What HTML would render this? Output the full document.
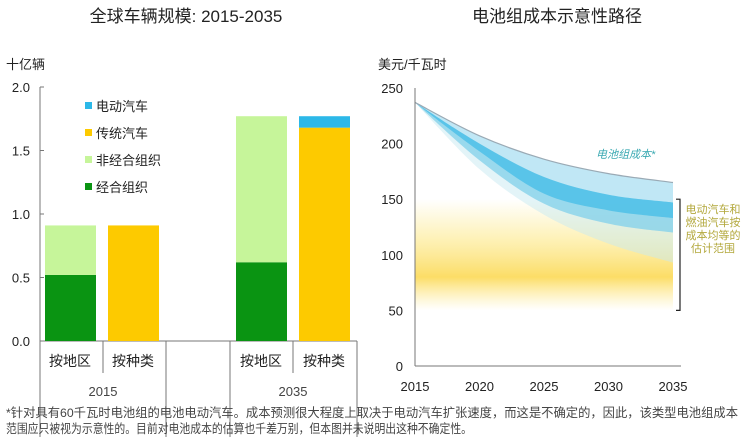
<!DOCTYPE html>
<html><head><meta charset="utf-8">
<style>
html,body{margin:0;padding:0;background:#fff;}
body{width:746px;height:437px;overflow:hidden;font-family:"Liberation Sans","Noto Sans CJK SC",sans-serif;}
svg text{font-family:"Liberation Sans","Noto Sans CJK SC",sans-serif;}
</style></head><body>
<svg id="c" width="746" height="437" viewBox="0 0 746 437">
<defs>
<linearGradient id="yel" x1="0" y1="0" x2="0" y2="1">
<stop offset="0" stop-color="#fde98a" stop-opacity="0"/>
<stop offset="0.35" stop-color="#fde98a" stop-opacity="0.6"/>
<stop offset="0.7" stop-color="#fbd955" stop-opacity="0.9"/>
<stop offset="1" stop-color="#fde98a" stop-opacity="0"/>
</linearGradient>
</defs>
<text x="186" y="22" font-size="17" text-anchor="middle" fill="#222">全球车辆规模: 2015-2035</text>
<text x="557" y="22" font-size="17" text-anchor="middle" fill="#222">电池组成本示意性路径</text>
<text x="6" y="69" font-size="13" fill="#222">十亿辆</text>
<text x="378" y="69" font-size="13" fill="#222">美元/千瓦时</text>
<g id="left"></g>
<g id="right"></g>
<text x="6" y="417" font-size="12.3" fill="#444" textLength="732" lengthAdjust="spacingAndGlyphs">*针对具有60千瓦时电池组的电池电动汽车。成本预测很大程度上取决于电动汽车扩张速度，而这是不确定的，因此，该类型电池组成本</text>
<text x="6" y="433" font-size="12.3" fill="#444" textLength="466" lengthAdjust="spacingAndGlyphs">范围应只被视为示意性的。目前对电池成本的估算也千差万别，但本图并未说明出这种不确定性。</text>
</svg>
<script>
const NS='http://www.w3.org/2000/svg';
function mk(p,t,a){const e=document.createElementNS(NS,t);for(const k in a)e.setAttribute(k,a[k]);p.appendChild(e);return e;}
// ---- left chart data
const barLabels=['按地区','按种类','按地区','按种类'];
const yearLabels=['2015','2035'];
const orgValues=[0.52,0,0.62,0];
const nonOrgValues=[0.39,0,1.15,0];
const iceValues=[0,0.91,0,1.68];
const evValues=[0,0,0,0.09];
const leftTicks=[0,0.5,1.0,1.5,2.0];
const L=document.getElementById('left');
const ly=v=>341-v*127;
const barX=[45,108,236,299];
leftTicks.forEach(t=>{
  const tx=mk(L,'text',{x:30,y:ly(t)+5,'font-size':13,'text-anchor':'end',fill:'#222'});tx.textContent=t.toFixed(1);
  
  
  const tk=mk(L,'line',{x1:40,x2:44,y1:ly(t),y2:ly(t),stroke:'#777'});
  
  
});
const axL=mk(L,'line',{x1:40,y1:87,x2:40,y2:437,stroke:'#777'});


const axB=mk(L,'line',{x1:40,y1:341,x2:357,y2:341,stroke:'#777'});


[[103,373],[166,437],[230,437],[293,373],[357,437]].forEach(d=>{
  const l=mk(L,'line',{x1:d[0],y1:341,x2:d[0],y2:d[1],stroke:'#777'});
  
  
});
const stacks=[['org',orgValues,'#0a9412'],['nonorg',nonOrgValues,'#c6f59a'],['ice',iceValues,'#fdca00'],['ev',evValues,'#2cb8e8']];
barLabels.forEach((lab,i)=>{
  let base=0;
  stacks.forEach(s=>{const v=s[1][i];if(v>0){
    const r=mk(L,'rect',{x:barX[i],y:ly(base+v),width:51,height:ly(base)-ly(base+v),fill:s[2]});
    
    
    base+=v;}});
  const t=mk(L,'text',{x:barX[i]+25,y:366,'font-size':14,'text-anchor':'middle',fill:'#222'});t.textContent=lab;
  
  
});
yearLabels.forEach((y,i)=>{
  const t=mk(L,'text',{x:[103,293][i],y:396,'font-size':13,'text-anchor':'middle',fill:'#444'});t.textContent=y;
  
  
});
const legendItems=[['电动汽车','#2cb8e8'],['传统汽车','#fdca00'],['非经合组织','#c6f59a'],['经合组织','#0a9412']];
legendItems.forEach((it,i)=>{
  const y=106+i*27;
  const r=mk(L,'rect',{x:85,y:y-4,width:7,height:7,fill:it[1]});
  
  
  const t=mk(L,'text',{x:96,y:y+5,'font-size':13,fill:'#222'});t.textContent=it[0];
  
  
});
// ---- right chart data
const years=[2015,2020,2025,2030,2035];
const upperCost=[237,207,186,173,165];
const midUpperCost=[237,200,170,154,147];
const coreCost=[237,193,155,140,133];
const midLowerCost=[237,185,146,128,120];
const lowerCost=[237,177,136,110,93];
const parityRange=[50,150];
const rightYTicks=[0,50,100,150,200,250];
const R=document.getElementById('right');
const rx=y=>415+(y-2015)*(258/20);
const ry=v=>366-v*1.112;
function pts(arr,ys){return arr.map((v,i)=>[rx(ys[i]),ry(v)]);}
function seg(p){let d='';
  for(let i=0;i<p.length-1;i++){const p0=p[Math.max(0,i-1)],p1=p[i],p2=p[i+1],p3=p[Math.min(p.length-1,i+2)];
    d+=' C'+(p1[0]+(p2[0]-p0[0])/6)+','+(p1[1]+(p2[1]-p0[1])/6)+' '+(p2[0]-(p3[0]-p1[0])/6)+','+(p2[1]-(p3[1]-p1[1])/6)+' '+p2;}
  return d;}
function curve(arr){const p=pts(arr,years);return 'M'+p[0]+seg(p);}
function rev(arr){const p=pts(arr.slice().reverse(),years.slice().reverse());return seg(p);}
function band(a,b,fill,op,name){const p=mk(R,'path',{d:curve(a)+' L'+rx(2035)+','+ry(b[b.length-1])+rev(b)+'Z',fill:fill,'fill-opacity':op});
  
  }
const yb=mk(R,'rect',{x:rx(2015),y:ry(parityRange[1]),width:rx(2035)-rx(2015),height:ry(parityRange[0])-ry(parityRange[1]),fill:'url(#yel)'});


band(upperCost,lowerCost,'#c8e9f2',0.5,'battery-cost-outer-band');
band(upperCost,midLowerCost,'#a8def3',0.6,'battery-cost-band');
band(midUpperCost,midLowerCost,'#72cbe6',0.5,'battery-cost-inner-band');
band(midUpperCost,coreCost,'#25b2e6',0.55,'battery-cost-core-band');
const ul=mk(R,'path',{d:curve(upperCost),fill:'none',stroke:'#9aaab5','stroke-width':1.2});


rightYTicks.forEach(t=>{
  const tx=mk(R,'text',{x:403,y:ry(t)+5,'font-size':13,'text-anchor':'end',fill:'#222'});tx.textContent=t;
  
  
});
years.forEach(y=>{
  const tx=mk(R,'text',{x:rx(y),y:391,'font-size':13,'text-anchor':'middle',fill:'#222'});tx.textContent=y;
  
  
});
const ay=mk(R,'line',{x1:415,y1:88,x2:415,y2:366,stroke:'#777'});


const ax=mk(R,'line',{x1:415,y1:366,x2:681,y2:366,stroke:'#777'});


const br=mk(R,'path',{d:'M676,'+ry(parityRange[1])+' H680 V'+ry(parityRange[0])+' H676',fill:'none',stroke:'#222','stroke-width':1.2});


const cl=mk(R,'text',{x:596,y:158,'font-size':11,fill:'#3aa9b2','font-style':'italic'});cl.textContent='电池组成本*';


['电动汽车和','燃油汽车按','成本均等的','估计范围'].forEach((s,i)=>{
  const t=mk(R,'text',{x:713,y:213+i*13,'font-size':11,'text-anchor':'middle',fill:'#b3a83c'});t.textContent=s;
  
  
});
</script>
</body></html>
